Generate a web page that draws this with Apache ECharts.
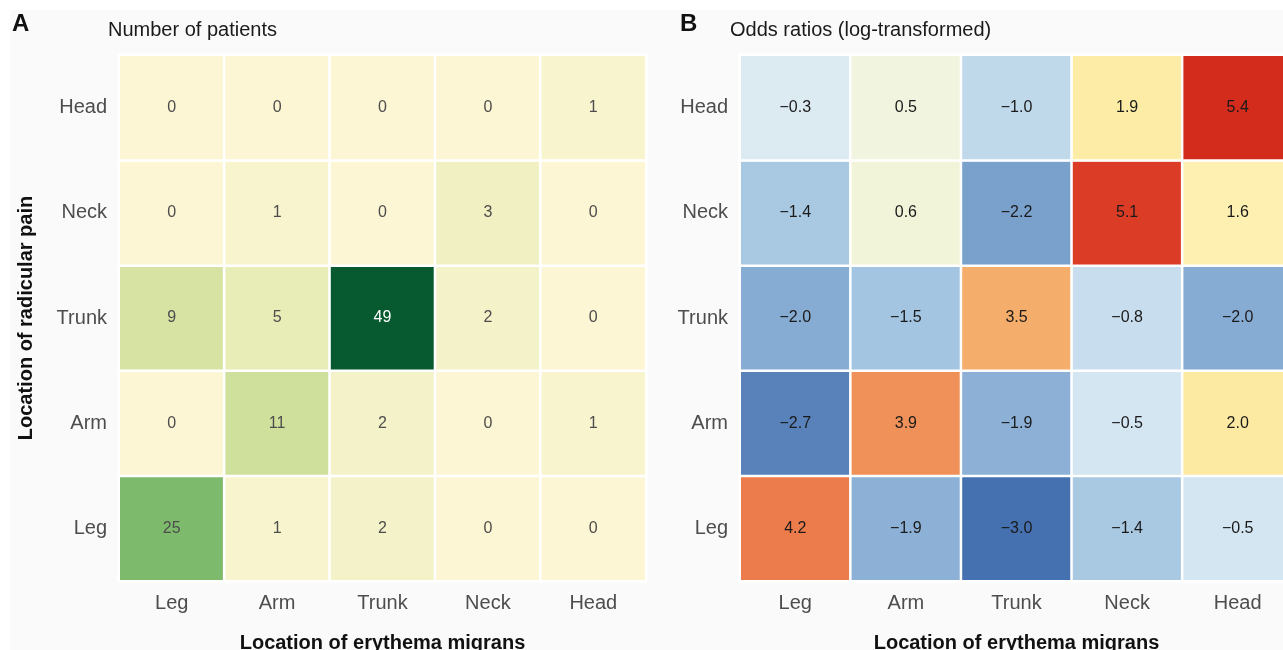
<!DOCTYPE html>
<html>
<head>
<meta charset="utf-8">
<script src="https://cdn.jsdelivr.net/npm/echarts@6/dist/echarts.min.js"></script>
<style>
html,body{margin:0;padding:0;background:#fff;}
#chart{width:1283px;height:650px;}
</style>
</head>
<body>
<div id="chart"></div>
<script>
// Categories (x: location of erythema migrans, y: location of radicular pain, bottom to top)
const emLocations = ['Leg', 'Arm', 'Trunk', 'Neck', 'Head'];
const painLocations = ['Leg', 'Arm', 'Trunk', 'Neck', 'Head'];

// Number of patients, one row per radicular pain location, columns by EM location
const patientsLeg   = [25, 1, 2, 0, 0];
const patientsArm   = [0, 11, 2, 0, 1];
const patientsTrunk = [9, 5, 49, 2, 0];
const patientsNeck  = [0, 1, 0, 3, 0];
const patientsHead  = [0, 0, 0, 0, 1];

// Log-transformed odds ratios
const oddsLeg   = [4.2, -1.9, -3.0, -1.4, -0.5];
const oddsArm   = [-2.7, 3.9, -1.9, -0.5, 2.0];
const oddsTrunk = [-2.0, -1.5, 3.5, -0.8, -2.0];
const oddsNeck  = [-1.4, 0.6, -2.2, 5.1, 1.6];
const oddsHead  = [-0.3, 0.5, -1.0, 1.9, 5.4];

const patientRows = [patientsLeg, patientsArm, patientsTrunk, patientsNeck, patientsHead];
const oddsRows = [oddsLeg, oddsArm, oddsTrunk, oddsNeck, oddsHead];

const FONT = '"Liberation Sans", Arial, Helvetica, sans-serif';

const patientData = [];
patientRows.forEach((row, y) => row.forEach((v, x) => {
  const item = { value: [x, y, v] };
  if (v > 30) item.label = { color: '#ffffff' };
  patientData.push(item);
}));
const oddsData = [];
oddsRows.forEach((row, y) => row.forEach((v, x) => oddsData.push([x, y, v])));

const chart = echarts.init(document.getElementById('chart'), null, { renderer: 'canvas' });

function xAxisCfg(gridIndex) {
  return {
    type: 'category', gridIndex, data: emLocations,
    axisLine: { show: false }, axisTick: { show: false }, splitLine: { show: false },
    axisLabel: { fontSize: 20, color: '#4d4d4d', fontFamily: FONT, margin: 12 },
    name: 'Location of erythema migrans', nameLocation: 'middle', nameGap: 52,
    nameTextStyle: { fontSize: 20, fontWeight: 'bold', color: '#111', fontFamily: FONT }
  };
}
function yAxisCfg(gridIndex, withName) {
  const c = {
    type: 'category', gridIndex, data: painLocations,
    axisLine: { show: false }, axisTick: { show: false }, splitLine: { show: false },
    axisLabel: { fontSize: 20, color: '#4d4d4d', fontFamily: FONT, margin: 12 }
  };
  if (withName) {
    c.name = 'Location of radicular pain';
    c.nameLocation = 'middle';
    c.nameGap = 83;
    c.nameTextStyle = { fontSize: 20, fontWeight: 'bold', color: '#111', fontFamily: FONT };
  }
  return c;
}

const option = {
  backgroundColor: '#ffffff',
  animation: false,
  graphic: [
    { type: 'rect', shape: { x: 10, y: 10, width: 1273, height: 640 }, style: { fill: '#fafafa' }, z: -10, silent: true }
  ],
  title: [
    { text: 'A', left: 12, top: 12, textStyle: { fontSize: 24, fontWeight: 'bold', color: '#111', fontFamily: FONT }, padding: 0 },
    { text: 'Number of patients', left: 108, top: 20, textStyle: { fontSize: 20, fontWeight: 'normal', color: '#1a1a1a', fontFamily: FONT }, padding: 0 },
    { text: 'B', left: 680, top: 12, textStyle: { fontSize: 24, fontWeight: 'bold', color: '#111', fontFamily: FONT }, padding: 0 },
    { text: 'Odds ratios (log-transformed)', left: 730, top: 20, textStyle: { fontSize: 20, fontWeight: 'normal', color: '#1a1a1a', fontFamily: FONT }, padding: 0 }
  ],
  grid: [
    { left: 119, top: 55, width: 527, height: 526, containLabel: false, outerBoundsMode: 'none' },
    { left: 740, top: 55, width: 553, height: 526, containLabel: false, outerBoundsMode: 'none' }
  ],
  xAxis: [xAxisCfg(0), xAxisCfg(1)],
  yAxis: [yAxisCfg(0, true), yAxisCfg(1, false)],
  visualMap: [
    {
      type: 'continuous', show: false, seriesIndex: 0, dimension: 2,
      min: 0, max: 49,
      inRange: { color: ['#fcf6d4', '#e0e8aa', '#c2d892', '#97c87a', '#6cb062', '#43994e', '#23783f', '#075a30'] }
    },
    {
      type: 'continuous', show: false, seriesIndex: 1, dimension: 2,
      min: -3.5, max: 5.5,
      inRange: { color: [
        '#3a64a8', '#4571b0', '#678dc2', '#87acd3', '#a3c5e1', '#bfd8ea', '#d5e6f3', '#e6f1f0',
        '#f1f4de', '#f8f3c6', '#fdf2b3', '#fdeaa2', '#fad98e', '#f7c47b', '#f4ad6a', '#ef8a55',
        '#e96640', '#de4229', '#d02619'
      ] }
    }
  ],
  series: [
    {
      type: 'heatmap', xAxisIndex: 0, yAxisIndex: 0, data: patientData,
      itemStyle: { borderColor: '#ffffff', borderWidth: 2.5 },
      label: { show: true, fontSize: 16, color: '#4d4d4d', fontFamily: FONT,
        formatter: p => String(p.value[2]) },
      emphasis: { disabled: true }
    },
    {
      type: 'heatmap', xAxisIndex: 1, yAxisIndex: 1, data: oddsData,
      itemStyle: { borderColor: '#ffffff', borderWidth: 2.5 },
      label: { show: true, fontSize: 16, color: '#1a1a1a', fontFamily: FONT,
        formatter: p => { const v = p.value[2]; return (v < 0 ? '\u2212' : '') + Math.abs(v).toFixed(1); } },
      emphasis: { disabled: true }
    }
  ]
};
chart.setOption(option);
</script>
</body>
</html>
